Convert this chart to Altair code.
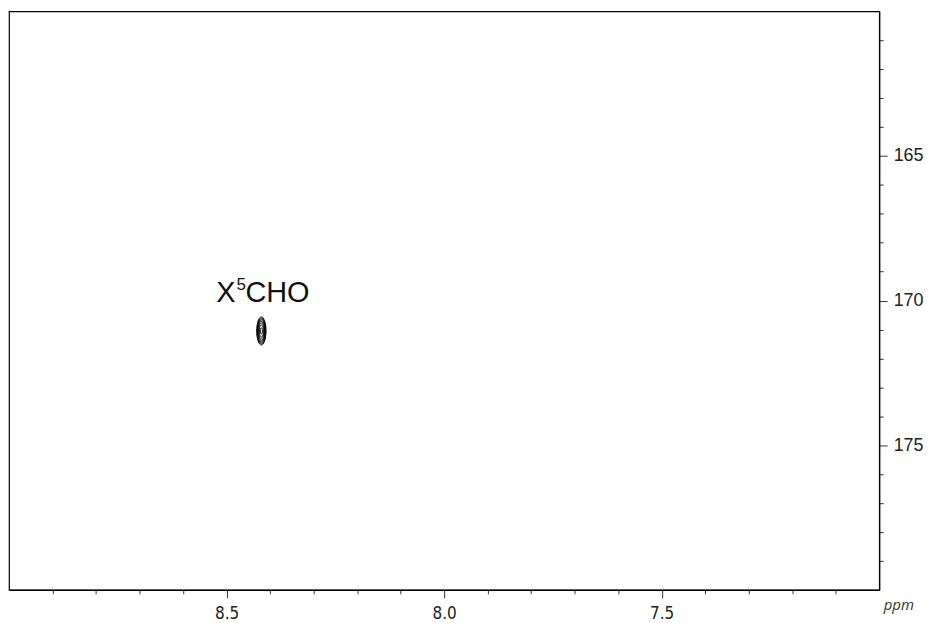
import altair as alt
import pandas as pd

# Peak (1H ppm, 13C ppm) and contour levels
peak_h = [8.42]
peak_c = [171.05]
contour_levels = [1, 2, 3, 4, 5, 6, 7, 8]

# Annotation (anchor point in ppm)
label_h = [8.42]
label_c = [170.05]
label_main = ["X"]
label_sup = ["5"]
label_rest = ["CHO"]

# Axis ticks
x_ticks = [7.1, 7.2, 7.3, 7.4, 7.5, 7.6, 7.7, 7.8, 7.9, 8.0,
           8.1, 8.2, 8.3, 8.4, 8.5, 8.6, 8.7, 8.8, 8.9]
y_ticks = [161, 162, 163, 164, 165, 166, 167, 168, 169, 170,
           171, 172, 173, 174, 175, 176, 177, 178, 179]

peaks = pd.DataFrame([
    {"h": h, "c": c, "level": lv}
    for h, c in zip(peak_h, peak_c) for lv in contour_levels
])
labels = pd.DataFrame({"h": label_h, "c": label_c, "main": label_main,
                       "sup": label_sup, "rest": label_rest})

ellipse = "M0,-1A0.33,1,0,1,1,0,1A0.33,1,0,1,1,0,-1Z"

x_scale = alt.Scale(domain=[9.0, 7.0], nice=False, zero=False)
y_scale = alt.Scale(domain=[160, 180], nice=False, zero=False, reverse=True)

x_major = "abs(datum.value*2 - round(datum.value*2)) < 0.01"
y_major = "abs(datum.value/5 - round(datum.value/5)) < 0.01"

x_axis = alt.Axis(
    orient="bottom", values=x_ticks, grid=False,
    labelExpr=f"{x_major} ? format(datum.value, '.1f') : ''",
    labelOverlap=False, labelFlush=False,
    tickSize={"condition": {"test": x_major, "value": 8}, "value": 4},
    tickColor="#333", tickWidth=1, domainColor="black", domainWidth=1.2,
    labelFont="DejaVu Sans Condensed, Open Sans", labelFontSize=17,
    labelColor="#222", labelPadding=8,
    title="ppm", titleFont="Open Sans", titleFontStyle="italic",
    titleFontWeight="normal", titleFontSize=15, titleColor="#333",
    titleAlign="left", titleBaseline="middle", titleX=878, titleY=15,
)
y_axis = alt.Axis(
    orient="right", values=y_ticks, grid=False,
    labelExpr=f"{y_major} ? format(datum.value, 'd') : ''",
    labelOverlap=False, labelFlush=False,
    tickSize={"condition": {"test": y_major, "value": 8}, "value": 4},
    tickColor="#333", tickWidth=1, domainColor="black", domainWidth=1.2,
    labelFont="Liberation Sans, Arial", labelFontSize=18,
    labelColor="#222", labelPadding=6, title=None,
)

X = alt.X("h:Q", scale=x_scale, axis=x_axis)
Y = alt.Y("c:Q", scale=y_scale, axis=y_axis)

contours = alt.Chart(peaks).mark_point(
    shape=ellipse, filled=False, stroke="black", strokeWidth=0.9, opacity=1
).encode(
    x=X, y=Y,
    size=alt.Size("level:Q", scale=alt.Scale(domain=[1, 8], range=[40, 800]), legend=None),
)

base_text = alt.Chart(labels).encode(x=X, y=Y)
t_main = base_text.mark_text(
    font="Liberation Sans, Arial", fontSize=29, color="#111",
    baseline="alphabetic", align="right", dx=-26
).encode(text="main:N")
t_sup = base_text.mark_text(
    font="Liberation Sans, Arial", fontSize=17, color="#111",
    baseline="alphabetic", align="left", dx=-25, dy=-12
).encode(text="sup:N")
t_rest = base_text.mark_text(
    font="Liberation Sans, Arial", fontSize=29, color="#111",
    baseline="alphabetic", align="left", dx=-16
).encode(text="rest:N")

chart = alt.layer(contours, t_main, t_sup, t_rest).properties(
    width=874, height=581, background="white",
    padding={"left": 1, "top": 2, "right": 5, "bottom": 2},
).configure_view(stroke="black", strokeWidth=1.2)

chart.save("out.html", embed_options={"renderer": "svg", "actions": False})
